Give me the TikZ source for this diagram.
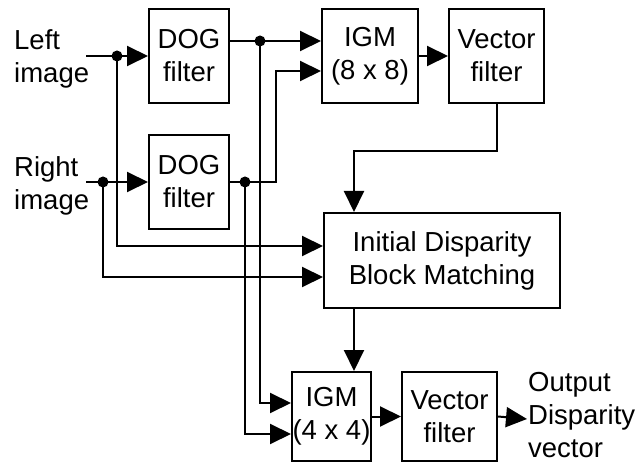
\documentclass[tikz,border=0pt]{standalone}
\usepackage{fontspec}
\setmainfont{Liberation Sans}
\usetikzlibrary{arrows.meta}

\tikzset{
  blk/.style={draw, line width=2pt, inner sep=0pt, align=center},
  wire/.style={line width=2pt},
  flow/.style={wire, -{Triangle[length=21pt,width=20pt]}},
  jn/.style={circle, fill, inner sep=0pt, minimum size=11pt},
  lbl/.style={align=left, inner sep=0pt, anchor=west}
}

\begin{document}
\begin{tikzpicture}[x=1pt, y=-1pt, font=\fontsize{27.5}{33}\selectfont]
    \useasboundingbox (0,0) rectangle (643,465);

    % blocks
    \node[blk, minimum width=80pt, minimum height=94pt] (dogL) at (189,56) {DOG\\filter};
    \node[blk, minimum width=80pt, minimum height=94pt] (dogR) at (189,182) {DOG\\filter};
    \node[blk, minimum width=96pt, minimum height=94pt] (igmA) at (370,56) {IGM\\(8 x 8)};
    \node[blk, minimum width=95pt, minimum height=94pt] (vecA) at (496.5,56) {Vector\\filter};
    \node[blk, minimum width=236pt, minimum height=95pt] (idbm) at (442,260.5) {Initial Disparity\\Block Matching};
    \node[blk, minimum width=79pt, minimum height=89pt] (igmB) at (331.5,416.5) {IGM\\(4 x 4)};
    \node[blk, minimum width=95pt, minimum height=89pt] (vecB) at (449.5,416.5) {Vector\\filter};

    % inputs and output
    \node[lbl] (inL) at (14,59) {Left\\image};
    \node[lbl] (inR) at (14,186) {Right\\image};
    \node[lbl] (outV) at (528,415) {Output\\Disparity\\vector};
    \coordinate (srcL) at (86,56);
    \coordinate (srcR) at (86,182);
    \coordinate (dst) at (527,419);

    % junctions and bends
    \node[jn] (jL) at (117,56) {};
    \node[jn] (jR) at (103,182) {};
    \node[jn] (jA) at (260,41) {};
    \node[jn] (jB) at (245,182) {};
    \coordinate (bA) at (276,71);
    \coordinate (bV) at (354,151);
    \coordinate (bL) at (117,246);
    \coordinate (bR) at (103,277);
    \coordinate (cA) at (260,403);
    \coordinate (cB) at (245,434);

    % connectors
    \draw[flow] (srcL) -- (dogL.west);
    \draw[flow] (srcR) -- (dogR.west);
    \draw[flow] (dogL.east |- jA) -- (igmA.west |- jA);
    \draw[flow] (dogR.east) -| (bA) -- (igmA.west |- bA);
    \draw[flow] (igmA.east) -- (vecA.west);
    \draw[flow] (vecA.south) |- (bV) -- (idbm.north -| bV);
    \draw[flow] (jL.center) -- (bL) -- (idbm.west |- bL);
    \draw[flow] (jR.center) -- (bR) -- (idbm.west |- bR);
    \draw[flow] (idbm.south -| bV) -- (igmB.north -| bV);
    \draw[flow] (jA.center) -- (cA) -- (igmB.west |- cA);
    \draw[flow] (jB.center) -- (cB) -- (igmB.west |- cB);
    \draw[flow] (igmB.east) -- (vecB.west);
    \draw[flow] (vecB.east) -- (dst);
\end{tikzpicture}
\end{document}
